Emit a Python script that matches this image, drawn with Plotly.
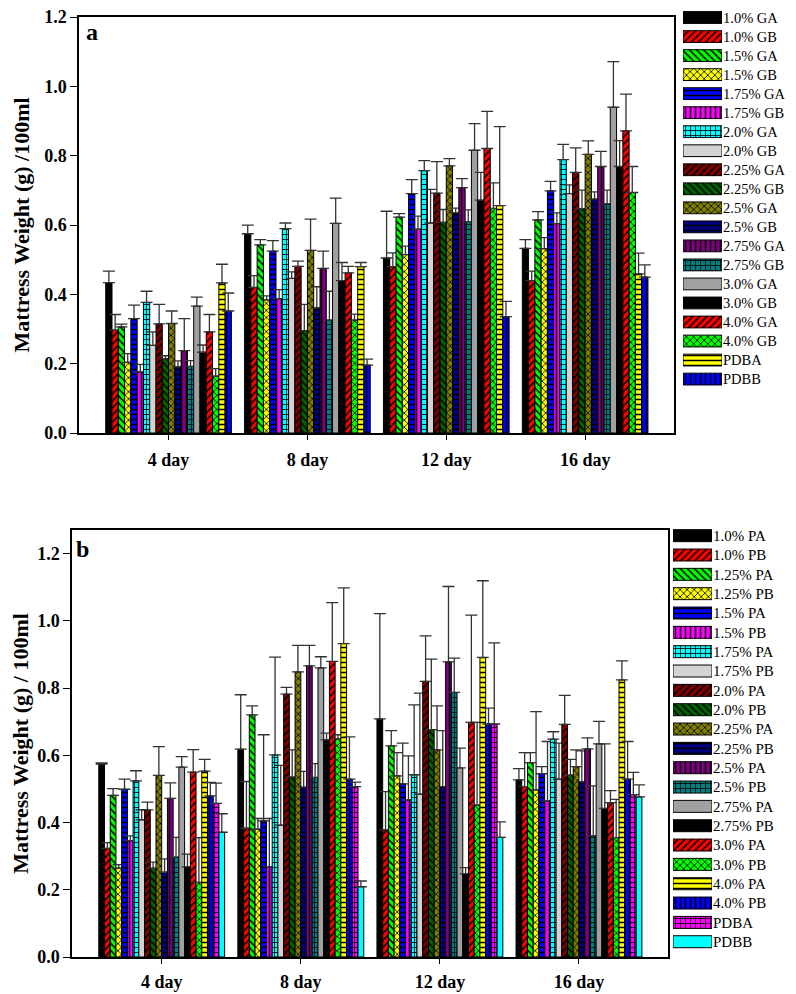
import plotly.graph_objects as go

days = ["4 day", "8 day", "12 day", "16 day"]

# ---------------- panel a ----------------
names_a = ["1.0% GA", "1.0% GB", "1.5% GA", "1.5% GB", "1.75% GA", "1.75% GB",
           "2.0% GA", "2.0% GB", "2.25% GA", "2.25% GB", "2.5% GA", "2.5% GB",
           "2.75% GA", "2.75% GB", "3.0% GA", "3.0% GB", "4.0% GA", "4.0% GB",
           "PDBA", "PDBB"]
colors_a = ["#000000", "#FF0000", "#00FF00", "#FFFF00", "#0000FF", "#FF00FF",
            "#00FFFF", "#D3D3D3", "#800000", "#006400", "#808000", "#000080",
            "#800080", "#008080", "#A0A0A0", "#000000", "#FF0000", "#00FF00",
            "#FFFF00", "#0000FF"]
patterns_a = ["", "/", "\\", "x", "-", "|", "+", "", "/", "\\", "x", "-",
              "|", "+", "", "", "/", "x", "-", "|"]
vals_a = [
    [0.434, 0.575, 0.505, 0.533],
    [0.297, 0.420, 0.480, 0.440],
    [0.306, 0.543, 0.623, 0.615],
    [0.204, 0.384, 0.515, 0.532],
    [0.330, 0.525, 0.691, 0.699],
    [0.176, 0.387, 0.588, 0.604],
    [0.377, 0.590, 0.757, 0.789],
    [0.253, 0.446, 0.606, 0.691],
    [0.315, 0.481, 0.692, 0.752],
    [0.214, 0.295, 0.608, 0.647],
    [0.316, 0.527, 0.771, 0.804],
    [0.191, 0.361, 0.635, 0.675],
    [0.238, 0.475, 0.708, 0.769],
    [0.192, 0.326, 0.610, 0.661],
    [0.366, 0.605, 0.816, 0.940],
    [0.233, 0.440, 0.672, 0.769],
    [0.292, 0.462, 0.821, 0.872],
    [0.164, 0.326, 0.648, 0.694],
    [0.433, 0.480, 0.656, 0.459],
    [0.352, 0.196, 0.336, 0.450],
]
err_a = [
    [0.033, 0.025, 0.135, 0.025],
    [0.045, 0.034, 0.040, 0.027],
    [0.008, 0.015, 0.010, 0.024],
    [0.025, 0.012, 0.024, 0.032],
    [0.039, 0.030, 0.040, 0.027],
    [0.022, 0.027, 0.038, 0.031],
    [0.032, 0.016, 0.029, 0.044],
    [0.039, 0.019, 0.097, 0.025],
    [0.056, 0.015, 0.091, 0.071],
    [0.009, 0.076, 0.037, 0.054],
    [0.036, 0.090, 0.021, 0.039],
    [0.017, 0.061, 0.014, 0.021],
    [0.092, 0.050, 0.026, 0.044],
    [0.017, 0.083, 0.034, 0.040],
    [0.026, 0.073, 0.077, 0.132],
    [0.021, 0.052, 0.080, 0.075],
    [0.050, 0.019, 0.107, 0.106],
    [0.022, 0.017, 0.074, 0.075],
    [0.054, 0.012, 0.228, 0.060],
    [0.052, 0.017, 0.044, 0.035],
]

# ---------------- panel b ----------------
names_b = ["1.0% PA", "1.0% PB", "1.25% PA", "1.25% PB", "1.5% PA", "1.5% PB",
           "1.75% PA", "1.75% PB", "2.0% PA", "2.0% PB", "2.25% PA", "2.25% PB",
           "2.5% PA", "2.5% PB", "2.75% PA", "2.75% PB", "3.0% PA", "3.0% PB",
           "4.0% PA", "4.0% PB", "PDBA", "PDBB"]
colors_b = ["#000000", "#FF0000", "#00FF00", "#FFFF00", "#0000FF", "#FF00FF",
            "#00FFFF", "#D3D3D3", "#800000", "#006400", "#808000", "#000080",
            "#800080", "#008080", "#A0A0A0", "#000000", "#FF0000", "#00FF00",
            "#FFFF00", "#0000FF", "#FF00FF", "#00FFFF"]
patterns_b = ["", "/", "\\", "x", "-", "|", "+", "", "/", "\\", "x", "-",
              "|", "+", "", "", "/", "x", "-", "|", "+", ""]
vals_b = [
    [0.574, 0.618, 0.708, 0.527],
    [0.323, 0.383, 0.378, 0.507],
    [0.481, 0.720, 0.628, 0.578],
    [0.264, 0.380, 0.539, 0.497],
    [0.499, 0.405, 0.515, 0.545],
    [0.346, 0.269, 0.467, 0.464],
    [0.524, 0.601, 0.542, 0.648],
    [0.408, 0.392, 0.484, 0.529],
    [0.4375, 0.782, 0.820, 0.692],
    [0.264, 0.535, 0.676, 0.541],
    [0.540, 0.848, 0.616, 0.566],
    [0.252, 0.505, 0.507, 0.521],
    [0.472, 0.866, 0.878, 0.619],
    [0.297, 0.534, 0.787, 0.360],
    [0.565, 0.860, 0.5625, 0.634],
    [0.268, 0.646, 0.247, 0.442],
    [0.550, 0.879, 0.698, 0.459],
    [0.222, 0.649, 0.452, 0.355],
    [0.553, 0.932, 0.891, 0.824],
    [0.479, 0.529, 0.693, 0.529],
    [0.457, 0.507, 0.693, 0.483],
    [0.371, 0.209, 0.356, 0.476],
]
err_b = [
    [0.003, 0.162, 0.313, 0.033],
    [0.017, 0.139, 0.114, 0.101],
    [0.020, 0.027, 0.045, 0.030],
    [0.011, 0.032, 0.069, 0.233],
    [0.030, 0.256, 0.121, 0.021],
    [0.014, 0.143, 0.131, 0.177],
    [0.030, 0.291, 0.208, 0.022],
    [0.030, 0.178, 0.301, 0.107],
    [0.023, 0.020, 0.135, 0.086],
    [0.018, 0.081, 0.210, 0.047],
    [0.086, 0.079, 0.131, 0.050],
    [0.040, 0.047, 0.166, 0.092],
    [0.046, 0.061, 0.224, 0.033],
    [0.059, 0.041, 0.102, 0.149],
    [0.031, 0.033, 0.059, 0.067],
    [0.038, 0.020, 0.019, 0.192],
    [0.067, 0.175, 0.319, 0.036],
    [0.133, 0.012, 0.246, 0.114],
    [0.035, 0.166, 0.228, 0.057],
    [0.040, 0.126, 0.047, 0.112],
    [0.060, 0.013, 0.241, 0.066],
    [0.055, 0.017, 0.046, 0.036],
]

# page is 796x994; the html body has an 8px margin, so the figure is
# sized to fill the rest and positions below are given in page pixels
OFF = 8
W, H = 796 - OFF, 994 - OFF
SERIF = "Liberation Serif, Times New Roman, serif"


def fx(p):
    return (p - OFF) / W


def fy(p):
    return 1 - (p - OFF) / H


def pat(shape, color):
    return dict(shape=shape, fgcolor="black", bgcolor=color, size=5,
                solidity=0.3, fillmode="replace")


fig = go.Figure()


def add_panel(names, colors, patterns, vals, errs, xa, ya, lxa, lya):
    for n, c, p, v, e in zip(names, colors, patterns, vals, errs):
        fig.add_trace(go.Bar(
            x=days, y=v, name=n, xaxis=xa, yaxis=ya, showlegend=False,
            marker=dict(color=c, line=dict(color="black", width=1),
                        pattern=pat(p, c)),
            error_y=dict(type="data", array=e, arrayminus=[0] * len(e),
                         symmetric=False, color="#333333", thickness=1.3,
                         width=6),
        ))
        # legend swatch (drawn in a side subplot)
        fig.add_trace(go.Bar(
            x=[1], y=[n], orientation="h", xaxis=lxa, yaxis=lya,
            showlegend=False, width=0.62, offsetgroup="leg" + lxa,
            marker=dict(color=c, line=dict(color="black", width=1),
                        pattern=pat(p, c)),
            hoverinfo="skip",
        ))


add_panel(names_a, colors_a, patterns_a, vals_a, err_a, "x", "y", "x3", "y3")
add_panel(names_b, colors_b, patterns_b, vals_b, err_b, "x2", "y2", "x4", "y4")

tickfont = dict(family=SERIF, size=18, color="black", weight="bold")
titlefont = dict(family=SERIF, size=22, color="black", weight="bold")

xcommon = dict(type="category", categoryorder="array", categoryarray=days,
               range=[-0.645, 3.64], showline=True, linecolor="black",
               linewidth=1.5, mirror=True, ticks="outside", ticklen=5,
               tickcolor="black", tickwidth=1, tickfont=tickfont,
               showgrid=False, zeroline=False, automargin=False)
ycommon = dict(showline=True, linecolor="black", linewidth=1.5, mirror=True,
               ticks="outside", ticklen=7, tickcolor="black", tickwidth=1,
               tickfont=tickfont, showgrid=False, zeroline=False, dtick=0.2,
               tick0=0, tickformat=".1f", ticklabeloverflow="allow",
               automargin=False)

legx = dict(range=[0, 1], visible=False, fixedrange=True, automargin=False)
legy = dict(type="category", autorange="reversed", side="right",
            showline=False, showgrid=False, zeroline=False, ticks="",
            ticklabelstandoff=0, ticklabeloverflow="allow", automargin=False)

fig.update_layout(
    width=W, height=H, margin=dict(l=0, r=0, t=0, b=0, autoexpand=False),
    paper_bgcolor="white", plot_bgcolor="white",
    barmode="group", bargap=0.095, bargroupgap=0,
    xaxis=dict(xcommon, domain=[fx(79), fx(674)], anchor="y",
               ticklabelstandoff=5),
    yaxis=dict(ycommon, domain=[fy(433), fy(17)], anchor="x",
               range=[0, 1.2005],
               title=dict(text="Mattress Weight (g) /100ml", font=titlefont,
                          standoff=8)),
    xaxis2=dict(xcommon, domain=[fx(72), fx(668)], anchor="y2",
                ticklabelstandoff=3),
    yaxis2=dict(ycommon, domain=[fy(957), fy(530)], anchor="x2",
                range=[0, 1.27],
                title=dict(text="Mattress Weight (g) / 100ml", font=titlefont,
                           standoff=8)),
    xaxis3=dict(legx, domain=[fx(683), fx(722)], anchor="y3"),
    yaxis3=dict(legy, domain=[fy(388.6), 1.0], anchor="x3",
                categoryorder="array", categoryarray=names_a,
                tickfont=dict(family=SERIF, size=14.5, color="black")),
    xaxis4=dict(legx, domain=[fx(673), fx(712)], anchor="y4"),
    yaxis4=dict(legy, domain=[fy(951.4), fy(526)], anchor="x4",
                categoryorder="array", categoryarray=names_b,
                tickfont=dict(family=SERIF, size=15, color="black")),
    annotations=[
        dict(text="a", xref="x domain", yref="y domain", x=0.008, y=1.0,
             xanchor="left", yanchor="top", showarrow=False,
             font=dict(family=SERIF, size=24, color="black", weight="bold")),
        dict(text="b", xref="x2 domain", yref="y2 domain", x=0.004, y=0.99,
             xanchor="left", yanchor="top", showarrow=False,
             font=dict(family=SERIF, size=24, color="black", weight="bold")),
    ],
)

fig.write_html("out.html")
